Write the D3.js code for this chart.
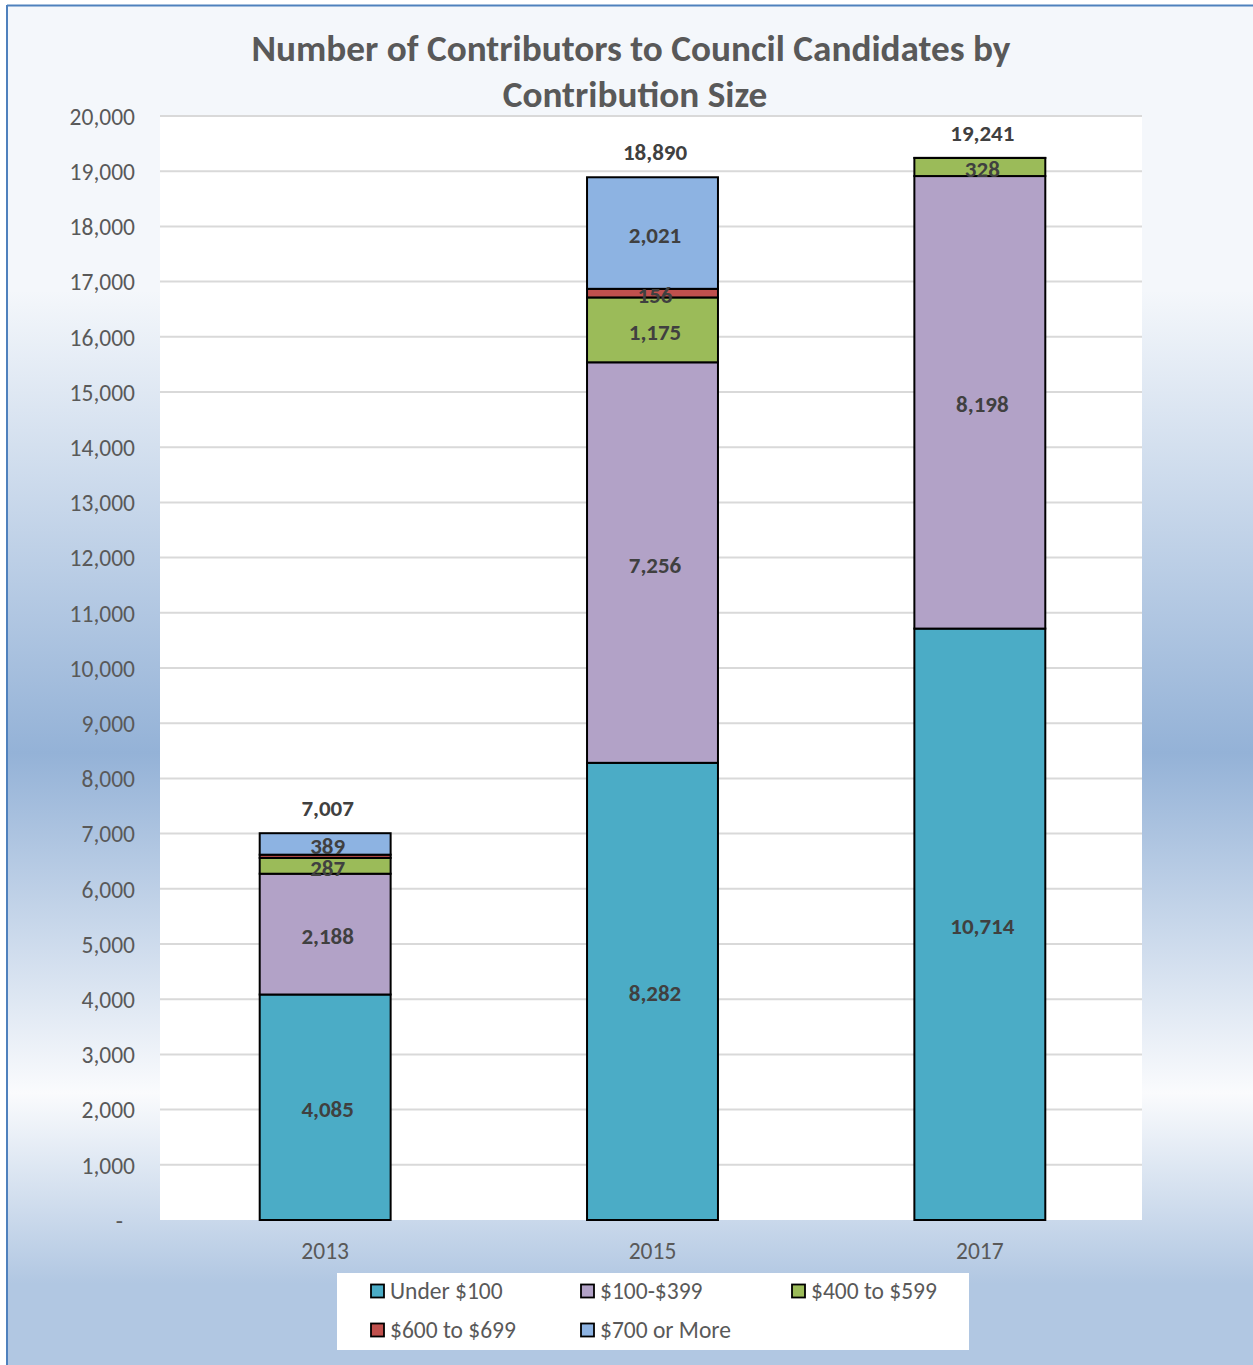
<!DOCTYPE html>
<html><head><meta charset="utf-8">
<script src="https://cdn.jsdelivr.net/npm/d3@7"></script>
<style>
body{margin:0;background:#fff;}
svg{display:block;}
</style>
</head><body>
<svg id="chart" width="1253" height="1365"></svg>
<script>
// ---- data ----
const categories = ["2013", "2015", "2017"];
const seriesNames = ["Under $100", "$100-$399", "$400 to $599", "$600 to $699", "$700 or More"];
const under100 = [4085, 8282, 10714];
const from100to399 = [2188, 7256, 8198];
const from400to599 = [287, 1175, 328];
const from600to699 = [58, 156, 1];
const over700 = [389, 2021, 0];
const totals = [7007, 18890, 19241];
const yTickValues = [0,1000,2000,3000,4000,5000,6000,7000,8000,9000,10000,11000,12000,13000,14000,15000,16000,17000,18000,19000,20000];
const seriesColors = ["#4bacc6", "#b2a2c7", "#9bbb59", "#c0504d", "#8db3e2"];
const titleLines = ["Number of Contributors to Council Candidates by", "Contribution Size"];

const seriesValues = [under100, from100to399, from400to599, from600to699, over700];
const rows = categories.map((c, i) => {
  const r = {cat: c};
  seriesNames.forEach((s, k) => r[s] = seriesValues[k][i]);
  return r;
});

const FONT = "Carlito, Lato, 'Open Sans', sans-serif";
const svg = d3.select("#chart");
const W = 1253, H = 1365;

// ---- background gradient ----
const defs = svg.append("defs");
const grad = defs.append("linearGradient").attr("id", "bg").attr("x1", 0).attr("y1", 0).attr("x2", 0).attr("y2", 1);
[[0, "#f4f7fb"], [0.21, "#f4f7fb"], [0.55, "#94b2d7"], [0.80, "#fafbfd"], [0.94, "#b1c7e2"], [1, "#b1c7e2"]]
  .forEach(([o, c]) => grad.append("stop").attr("offset", o).attr("stop-color", c));
svg.append("rect").attr("x", 0).attr("y", 0).attr("width", W).attr("height", H).attr("fill", "#ffffff");
svg.append("rect").attr("x", 7).attr("y", 5).attr("width", W - 7).attr("height", H - 5).attr("fill", "url(#bg)");
svg.append("line").attr("x1", 7).attr("x2", W).attr("y1", 5.5).attr("y2", 5.5).attr("stroke", "#4f81bd").attr("stroke-width", 2);
svg.append("line").attr("x1", 7).attr("x2", 7).attr("y1", 5).attr("y2", H).attr("stroke", "#4f81bd").attr("stroke-width", 2);

// ---- plot area ----
const plot = {left: 160, right: 1142, top: 116, bottom: 1220};
svg.append("rect").attr("x", plot.left).attr("y", plot.top)
  .attr("width", plot.right - plot.left).attr("height", plot.bottom - plot.top).attr("fill", "#ffffff");

const x = d3.scaleBand().domain(categories).range([plot.left + 1.5, plot.right + 1.5]).padding(0);
const barW = x.bandwidth() * 0.4;
const y = d3.scaleLinear().domain([0, 20000]).range([plot.bottom, plot.top]);

// gridlines
svg.append("g").selectAll("line").data(yTickValues.filter(v => v > 0)).join("line")
  .attr("x1", plot.left).attr("x2", plot.right)
  .attr("y1", d => y(d)).attr("y2", d => y(d))
  .attr("stroke", "#d9d9d9").attr("stroke-width", 2);

// y axis
const yAxis = d3.axisLeft(y).tickValues(yTickValues).tickSize(0).tickPadding(0)
  .tickFormat(d => d === 0 ? "-" : d3.format(",")(d));
const gy = svg.append("g").attr("transform", `translate(${plot.left - 25},0)`).call(yAxis);
gy.select(".domain").remove();
gy.selectAll("text").attr("font-family", FONT).attr("font-size", 23.5).attr("fill", "#595959")
  .attr("dy", "0.35em")
  .attr("dx", d => d === 0 ? -12 : 0);

// x axis
const xAxis = d3.axisBottom(x).tickSize(0).tickPadding(0);
const gx = svg.append("g").attr("transform", `translate(0,${plot.bottom + 31})`).call(xAxis);
gx.select(".domain").remove();
gx.selectAll("text").attr("font-family", FONT).attr("font-size", 23.5).attr("fill", "#595959")
  .attr("dy", "0.35em");

// ---- stacked bars ----
const stack = d3.stack().keys(seriesNames);
const stacked = stack(rows);
const color = d3.scaleOrdinal().domain(seriesNames).range(seriesColors);

const layers = svg.append("g").selectAll("g").data(stacked).join("g").attr("fill", d => color(d.key));
layers.selectAll("rect").data(d => d.filter(s => s[1] - s[0] > 0)).join("rect")
  .attr("x", d => x(d.data.cat) + (x.bandwidth() - barW) / 2)
  .attr("width", barW)
  .attr("y", d => y(d[1]))
  .attr("height", d => y(d[0]) - y(d[1]))
  .attr("stroke", "#000000").attr("stroke-width", 2);

// segment labels
const labelG = svg.append("g");
stacked.forEach(layer => {
  layer.forEach(s => {
    const v = s[1] - s[0];
    if (v < 100) return;
    labelG.append("text")
      .attr("x", x(s.data.cat) + x.bandwidth() / 2 + 2.5)
      .attr("y", (y(s[0]) + y(s[1])) / 2 + 2)
      .attr("dy", "0.35em")
      .attr("text-anchor", "middle")
      .attr("font-family", FONT).attr("font-weight", "bold").attr("font-size", 23)
      .attr("fill", "#404040")
      .text(d3.format(",")(v));
  });
});

// totals
svg.append("g").selectAll("text").data(categories).join("text")
  .attr("x", d => x(d) + x.bandwidth() / 2 + 2.5)
  .attr("y", (d, i) => y(totals[i]) - 25)
  .attr("dy", "0.35em")
  .attr("text-anchor", "middle")
  .attr("font-family", FONT).attr("font-weight", "bold").attr("font-size", 23)
  .attr("fill", "#404040")
  .text((d, i) => d3.format(",")(totals[i]));

// ---- title ----
const title = svg.append("g");
title.selectAll("text").data(titleLines).join("text")
  .attr("x", (d, i) => i === 0 ? 631 : 635).attr("y", (d, i) => 61 + i * 46)
  .attr("text-anchor", "middle")
  .attr("font-family", FONT).attr("font-weight", "bold").attr("font-size", 31)
  .attr("fill", "#595959")
  .text(d => d);
// fit first title line to reference width
{
  const t = title.select("text").node();
  const w = t.getComputedTextLength();
  const fs = 31 * 759 / w;
  title.selectAll("text").attr("font-size", fs);
}

// ---- legend ----
svg.append("rect").attr("x", 337).attr("y", 1273).attr("width", 632).attr("height", 77).attr("fill", "#ffffff");
const legendPos = [[370, 1291], [580, 1291], [791, 1291], [370, 1330], [580, 1330]];
const lg = svg.append("g").selectAll("g").data(seriesNames).join("g")
  .attr("transform", (d, i) => `translate(${legendPos[i][0]},${legendPos[i][1]})`);
lg.append("rect").attr("x", 1).attr("y", -6.5).attr("width", 13).attr("height", 13)
  .attr("fill", d => color(d)).attr("stroke", "#000").attr("stroke-width", 1.8);
lg.append("text").attr("x", 20).attr("y", 0).attr("dy", "0.35em")
  .attr("font-family", FONT).attr("font-size", 23.5).attr("fill", "#595959")
  .text(d => d);
</script>
</body></html>
